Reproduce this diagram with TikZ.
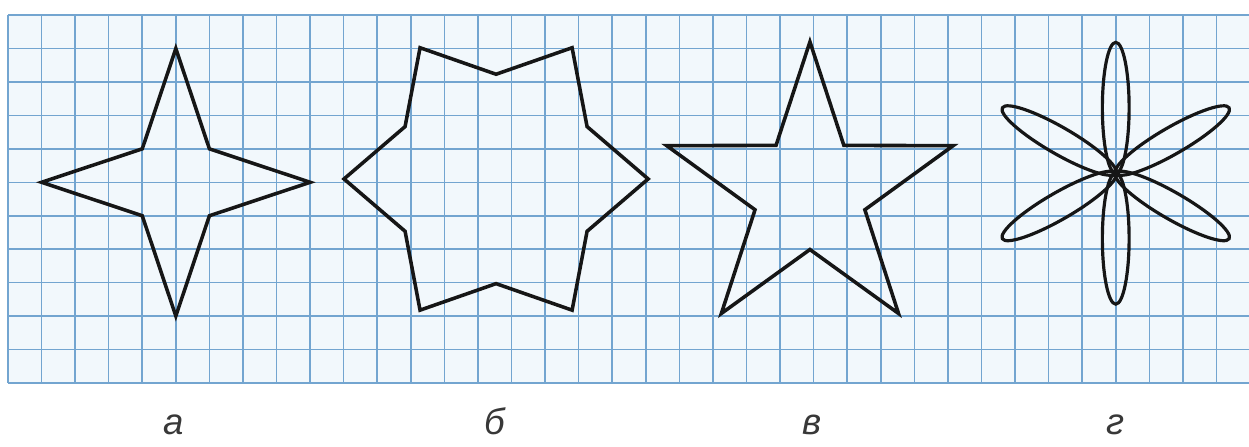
\documentclass[tikz,border=0pt]{standalone}
\usepackage{fontspec}
\newfontfamily\labfont{Liberation Sans}
\definecolor{gridc}{RGB}{115,165,208}
\definecolor{gridbg}{RGB}{242,248,252}
\definecolor{inkc}{RGB}{22,22,22}
\begin{document}
\begin{tikzpicture}[x=1cm,y=0.9964cm,
  fig/.style={line width=3pt,line join=miter,draw=inkc},
  petal/.style={line width=2.7pt,draw=inkc},
  gridline/.style={line width=1.3pt,draw=gridc},
  lab/.style={font=\labfont\itshape\fontsize{31}{37}\selectfont,text=black!78,anchor=base,inner sep=0pt}]
\useasboundingbox (-0.238,-1.913) rectangle (36.97,11.45);
\clip (-0.238,-1.913) rectangle (36.97,11.45);
% grid
\fill[gridbg] (0,0) rectangle (37,11);
\foreach \i in {0,...,37} \draw[gridline] (\i,0) -- (\i,11);
\foreach \j in {0,...,11} \draw[gridline] (0,\j) -- (37,\j);
% star a
\draw[fig] (5,10) -- (6,7) -- (9,6) -- (6,5) -- (5,2) -- (4,5) -- (1,6) -- (4,7) -- cycle;
% star b (hexagram)
\begin{scope}[shift={(14.54,6.1)}]
\draw[fig] (0:4.53) -- (30:3.13) -- (60:4.53) -- (90:3.13) -- (120:4.53) -- (150:3.13)
  -- (180:4.53) -- (210:3.13) -- (240:4.53) -- (270:3.13) -- (300:4.53) -- (330:3.13) -- cycle;
\end{scope}
% star v (pentagram)
\begin{scope}[shift={(23.89,5.71)}]
\draw[fig] (90:4.49) -- (54:1.72) -- (18:4.49) -- (-18:1.72) -- (-54:4.49) -- (-90:1.72)
  -- (-126:4.49) -- (-162:1.72) -- (162:4.49) -- (126:1.72) -- cycle;
\end{scope}
% flower g
\foreach \a in {30,90,150,210,270,330}
  \draw[petal,shift={(33,6.27)},rotate=\a] (1.95,0) ellipse (1.95 and 0.4);
\fill[inkc] (33,6.27) circle (0.13);
% labels
\node[lab] (la) at (4.95,-1.555) {а};
\node[lab] (lb) at (14.5,-1.555) {б};
\node[lab] (lv) at (23.95,-1.555) {в};
\node[lab] (lg) at (33.0,-1.555) {г};
\end{tikzpicture}
\end{document}
